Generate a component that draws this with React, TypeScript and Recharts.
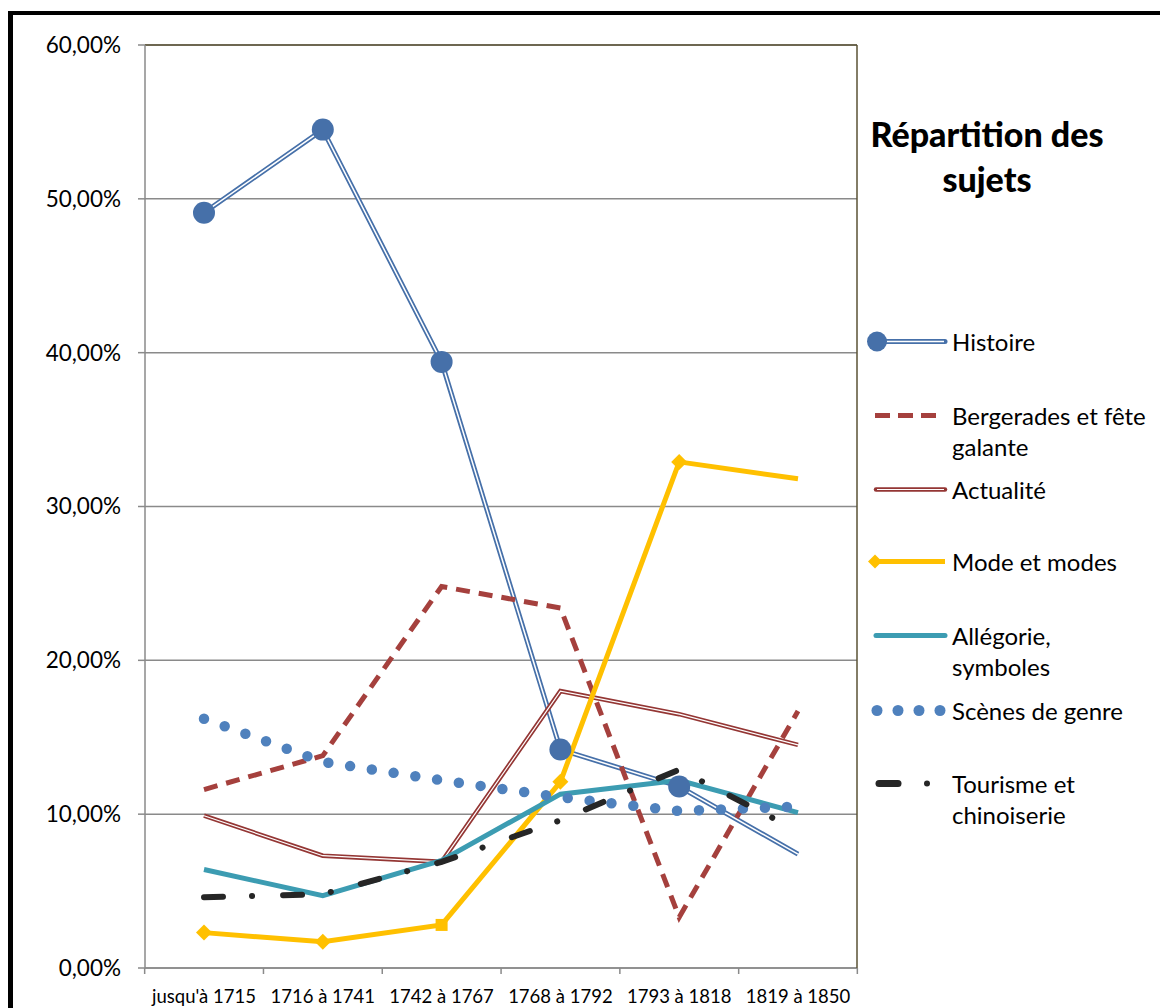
import { LineChart, Line, XAxis, YAxis, CartesianGrid, ReferenceLine, Legend } from 'recharts';

const periods = ["jusqu'à 1715", '1716 à 1741', '1742 à 1767', '1768 à 1792', '1793 à 1818', '1819 à 1850'];
const histoire = [49.1, 54.5, 39.4, 14.2, 11.8, 7.4];
const bergerades = [11.6, 13.8, 24.8, 23.4, 3.3, 16.7];
const actualite = [9.9, 7.3, 6.9, 18.0, 16.5, 14.5];
const mode = [2.3, 1.7, 2.8, 12.1, 32.9, 31.8];
const allegorie = [6.4, 4.7, 7.0, 11.3, 12.2, 10.1];
const scenes = [16.2, 13.4, 12.2, 11.1, 10.2, 10.5];
const tourisme = [4.6, 4.8, 6.9, 9.6, 12.9, 8.9];

const yTicks = [0, 10, 20, 30, 40, 50, 60];

const titleLines = ['Répartition des', 'sujets'];
const legendLabels = [
  ['Histoire'],
  ['Bergerades et fête', 'galante'],
  ['Actualité'],
  ['Mode et modes'],
  ['Allégorie,', 'symboles'],
  ['Scènes de genre'],
  ['Tourisme et', 'chinoiserie'],
];

const data = periods.map((period, i) => ({
  period,
  histoire: histoire[i],
  bergerades: bergerades[i],
  actualite: actualite[i],
  mode: mode[i],
  allegorie: allegorie[i],
  scenes: scenes[i],
  tourisme: tourisme[i],
}));

const C = {
  histoire: '#4670a9',
  bergerades: '#a5403d',
  actualite: '#943634',
  mode: '#ffc000',
  allegorie: '#3c9cb2',
  scenes: '#4f81bd',
  tourisme: '#262626',
  grid: '#8a8a8a',
  border: '#5a5234',
};

const FONT = 'Lato, "Open Sans", sans-serif';
const lastIndex = periods.length - 1;
const X_TICK_SIZE = 6;
const X_TICK_MARGIN = 16;

// label under each period, with the small tick marks between periods
const PeriodTick = (props: any) => {
  const { x, y, payload, index, width, visibleTicksCount } = props;
  const n = visibleTicksCount || periods.length;
  const half = (Number(width) || 712) / n / 2;
  const axisY = y - X_TICK_SIZE - X_TICK_MARGIN;
  const mark = (mx: number) => (
    <line x1={mx} x2={mx} y1={axisY} y2={axisY + X_TICK_SIZE} stroke={C.grid} strokeWidth={1.5} />
  );
  return (
    <g>
      {mark(x - half)}
      {index === n - 1 && mark(x + half)}
      <text x={x} y={y} dy="0.71em" textAnchor="middle" fontSize={18.5} fill="#000">
        {payload.value}
      </text>
    </g>
  );
};

// big round markers, the last period has none
const HistoireDot = (props: any) => {
  const { cx, cy, index } = props;
  if (cx == null || cy == null || index === lastIndex) return <g key={`h${index}`} />;
  return <circle key={`h${index}`} cx={cx} cy={cy} r={11} fill={C.histoire} />;
};

// markers of the yellow series: diamonds, one square, none at the end
const ModeDot = (props: any) => {
  const { cx, cy, index } = props;
  if (cx == null || cy == null || index === lastIndex) return <g key={`m${index}`} />;
  if (index === 2) {
    return <rect key={`m${index}`} x={cx - 6} y={cy - 6} width={12} height={12} fill={C.mode} />;
  }
  const h = 8;
  return (
    <polygon
      key={`m${index}`}
      points={`${cx},${cy - h} ${cx + h},${cy} ${cx},${cy + h} ${cx - h},${cy}`}
      fill={C.mode}
    />
  );
};

const LegendSymbol = ({ idx }: { idx: number }) => {
  const y = 15.5;
  let body: any = null;
  switch (idx) {
    case 0:
      body = (
        <>
          <line x1={17} x2={85} y1={y} y2={y} stroke={C.histoire} strokeWidth={5} strokeLinecap="round" />
          <line x1={17} x2={84} y1={y} y2={y} stroke="#fff" strokeWidth={1.5} />
          <circle cx={17} cy={y} r={10} fill={C.histoire} />
        </>
      );
      break;
    case 1:
      body = <line x1={15} x2={77} y1={y} y2={y} stroke={C.bergerades} strokeWidth={5} strokeDasharray="15 8" />;
      break;
    case 2:
      body = (
        <>
          <line x1={16} x2={85} y1={y} y2={y} stroke={C.actualite} strokeWidth={4.5} strokeLinecap="round" />
          <line x1={17} x2={84} y1={y} y2={y} stroke="#fff" strokeWidth={1.2} />
        </>
      );
      break;
    case 3:
      body = (
        <>
          <line x1={15} x2={85} y1={y} y2={y} stroke={C.mode} strokeWidth={5} />
          <polygon points={`15,${y - 7} 22,${y} 15,${y + 7} 8,${y}`} fill={C.mode} />
        </>
      );
      break;
    case 4:
      body = <line x1={16} x2={85} y1={y} y2={y} stroke={C.allegorie} strokeWidth={5} strokeLinecap="round" />;
      break;
    case 5:
      body = (
        <>
          {[17, 38, 59, 80].map((x) => (
            <circle key={x} cx={x} cy={y} r={5.5} fill={C.scenes} />
          ))}
        </>
      );
      break;
    case 6:
      body = (
        <>
          <line x1={19} x2={38} y1={y} y2={y} stroke={C.tourisme} strokeWidth={7} strokeLinecap="round" />
          <circle cx={67} cy={y} r={3} fill={C.tourisme} />
        </>
      );
      break;
  }
  return (
    <svg width={92} height={31} style={{ flex: 'none' }}>
      {body}
    </svg>
  );
};

const itemCenters = [341, 415, 489, 561, 635, 710, 783];

const LegendBox = () => (
  <div style={{ position: 'relative', width: 300, height: 840, fontFamily: FONT, color: '#000' }}>
    <div
      style={{
        position: 'absolute',
        left: 0,
        top: 133 - 22.5,
        width: 254,
        textAlign: 'center',
        fontWeight: 900,
        fontSize: 34,
        lineHeight: '45px',
      }}
    >
      {titleLines.map((t) => (
        <div key={t}>{t}</div>
      ))}
    </div>
    {legendLabels.map((lines, i) => (
      <div
        key={i}
        style={{ position: 'absolute', left: 0, top: itemCenters[i] - 15.5, display: 'flex', alignItems: 'flex-start' }}
      >
        <LegendSymbol idx={i} />
        <div style={{ fontSize: 24, lineHeight: '31px', whiteSpace: 'nowrap' }}>
          {lines.map((l) => (
            <div key={l}>{l}</div>
          ))}
        </div>
      </div>
    ))}
  </div>
);

export default function App() {
  return (
    <div style={{ position: 'fixed', left: 0, top: 0, width: 1160, height: 1008, overflow: 'hidden', background: '#fff' }}>
      <div
        style={{
          position: 'absolute',
          left: 8,
          top: 11,
          width: 1300,
          height: 1100,
          borderLeft: '5px solid #000',
          borderTop: '4px solid #000',
        }}
      />
      <div style={{ position: 'absolute', left: 0, top: 0 }}>
        <LineChart
          width={1160}
          height={1008}
          data={data}
          margin={{ top: 45, right: 302, bottom: 0, left: 0 }}
          style={{ fontFamily: FONT }}
        >
          <CartesianGrid horizontal vertical={false} stroke={C.grid} strokeWidth={1.5} />
          <XAxis
            dataKey="period"
            interval={0}
            padding={{ left: 59, right: 59 }}
            height={40}
            tickLine={false}
            tickSize={X_TICK_SIZE}
            tickMargin={X_TICK_MARGIN}
            axisLine={{ stroke: C.grid, strokeWidth: 1.5 }}
            tick={PeriodTick}
          />
          <YAxis
            width={145}
            domain={[0, 60]}
            ticks={yTicks}
            tickFormatter={(v: number) => `${v},00%`}
            tickSize={7}
            tickMargin={17}
            axisLine={{ stroke: C.grid, strokeWidth: 1.5 }}
            tickLine={{ stroke: C.grid, strokeWidth: 1.5 }}
            tick={{ fill: '#000', fontSize: 22.5 }}
          />
          <YAxis
            yAxisId="frame"
            orientation="right"
            width={1}
            domain={[0, 60]}
            ticks={yTicks}
            tick={() => <g />}
            tickLine={false}
            axisLine={{ stroke: C.border, strokeWidth: 1.5 }}
          />
          <ReferenceLine y={60} stroke={C.border} strokeWidth={1.5} />

          <Line dataKey="histoire" stroke={C.histoire} strokeWidth={5} dot={false} isAnimationActive={false} />
          <Line dataKey="histoire" stroke="#fff" strokeWidth={1.5} dot={false} isAnimationActive={false} />
          <Line dataKey="histoire" stroke="none" dot={HistoireDot} isAnimationActive={false} />
          <Line
            dataKey="bergerades"
            stroke={C.bergerades}
            strokeWidth={5}
            strokeDasharray="14 9"
            dot={false}
            isAnimationActive={false}
          />
          <Line dataKey="actualite" stroke={C.actualite} strokeWidth={4.5} dot={false} isAnimationActive={false} />
          <Line dataKey="actualite" stroke="#fff" strokeWidth={1.2} dot={false} isAnimationActive={false} />
          <Line dataKey="mode" stroke={C.mode} strokeWidth={5} dot={ModeDot} isAnimationActive={false} />
          <Line dataKey="allegorie" stroke={C.allegorie} strokeWidth={5} dot={false} isAnimationActive={false} />
          <Line
            dataKey="scenes"
            stroke={C.scenes}
            strokeWidth={10.5}
            strokeDasharray="0 22"
            strokeLinecap="round"
            dot={false}
            isAnimationActive={false}
          />
          <Line
            dataKey="tourisme"
            stroke={C.tourisme}
            strokeWidth={6}
            strokeDasharray="19 29 0.1 31"
            strokeLinecap="round"
            dot={false}
            isAnimationActive={false}
          />
          <Legend
            layout="vertical"
            align="center"
            verticalAlign="middle"
            wrapperStyle={{ left: 860, top: 0, width: 300 }}
            content={() => <LegendBox />}
          />
        </LineChart>
      </div>
    </div>
  );
}
